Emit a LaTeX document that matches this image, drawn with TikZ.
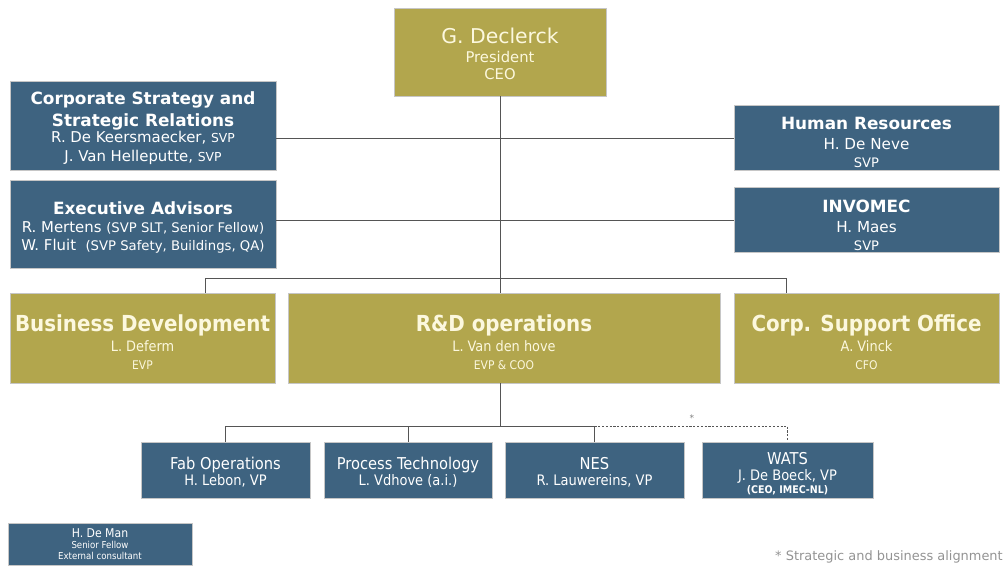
\documentclass[tikz,border=0pt]{standalone}
\usepackage{fontspec}
\setmainfont{DejaVu Sans}
\newfontfamily\condfont{DejaVu Sans Condensed}

\definecolor{imecblue}{RGB}{62,99,128}
\definecolor{imecgold}{RGB}{178,166,77}
\definecolor{goldtext}{RGB}{252,248,222}
\definecolor{linkgray}{RGB}{85,85,85}

\newcommand{\fs}[2]{\fontsize{#1}{#2}\selectfont}
\newcommand{\btitle}[1]{{\fs{12}{13.5}\bfseries #1}}
\newcommand{\gtitle}[1]{{\fs{15.7}{14.2}\bfseries #1}}
\newcommand{\lift}[1]{\rule{0pt}{#1}}

\begin{document}
\begin{tikzpicture}[x=0.025cm,y=-0.025cm,
    bluebox/.style={draw=gray!45,fill=imecblue,text=white,align=center,inner sep=0pt},
    goldbox/.style={draw=gray!45,fill=imecgold,text=goldtext,align=center,inner sep=0pt},
    link/.style={draw=linkgray,line width=0.6pt},
    dashlink/.style={link,dash pattern=on 1.5pt off 1.2pt}]

  \useasboundingbox (0,0) rectangle (1005,567);

  % top level
  \node[goldbox,minimum width=5.3cm,minimum height=2.2cm,font=\fs{10.5}{12.3}] (ceo) at (500,52)
    {\lift{14pt}{\fs{14.5}{12.3}G. Declerck}\\[1pt]President\\CEO};

  \begin{scope}[every node/.style={bluebox,minimum width=6.65cm,font=\fs{10.6}{13.5}}]
    \node[minimum height=2.225cm] (strat) at (143,125.5)
      {\lift{13pt}\btitle{Corporate Strategy and}\\[2pt]\btitle{Strategic Relations}\\[-1.5pt]
       R. De Keersmaecker, {\fs{8.8}{13.5}SVP}\\J. Van Helleputte, {\fs{8.8}{13.5}SVP}};
    \node[minimum height=2.2cm,font=\fs{10.6}{13}] (advis) at (143,224)
      {\lift{14pt}\btitle{Executive Advisors}\\
       R. Mertens {\fs{9.4}{13}(SVP SLT, Senior Fellow)}\\
       W. Fluit\ \ {\fs{9.4}{13}(SVP Safety, Buildings, QA)}};
  \end{scope}

  \begin{scope}[every node/.style={bluebox,minimum width=6.625cm,minimum height=1.625cm,font=\fs{10.8}{13}}]
    \node (hr) at (866.5,137.5)
      {\lift{16pt}\btitle{Human Resources}\\[1pt]H. De Neve\\{\fs{9.3}{13}SVP}};
    \node (invomec) at (866.5,219.5)
      {\lift{17pt}\btitle{INVOMEC}\\[1.5pt]H. Maes\\{\fs{9.3}{13}SVP}};
  \end{scope}

  % second level
  \begin{scope}[every node/.style={goldbox,minimum height=2.25cm,font=\condfont\fs{10.2}{14.2}}]
    \node[minimum width=6.625cm] (busdev) at (142.5,338)
      {\lift{18pt}\gtitle{Business Development}\\L. Deferm\\[-1.8pt]{\fs{8.5}{12}EVP}};
    \node[minimum width=10.8cm] (rnd) at (504,338)
      {\lift{18pt}\gtitle{R\&D operations}\\L. Van den hove\\[-1.8pt]{\fs{8.5}{12}EVP \& COO}};
    \node[minimum width=6.625cm] (corp) at (866.5,338)
      {\lift{18pt}\gtitle{Corp. Support Office}\\A. Vinck\\[-1.8pt]{\fs{8.5}{12}CFO}};
  \end{scope}

  % third level
  \begin{scope}[every node/.style={bluebox,minimum height=1.4cm,font=\condfont\fs{10.3}{11.4}}]
    \node[minimum width=4.225cm] (fab) at (225.5,470)
      {\lift{12pt}{\fs{11.6}{11.4}Fab Operations}\\H. Lebon, VP};
    \node[minimum width=4.2cm] (proc) at (408,470)
      {\lift{12pt}{\fs{11.6}{11.4}Process Technology}\\L. Vdhove (a.i.)};
    \node[minimum width=4.475cm] (nes) at (594.5,470)
      {\lift{12pt}{\fs{11.6}{11.4}NES}\\R. Lauwereins, VP};
    \node[minimum width=4.275cm] (wats) at (787.5,470)
      {\lift{14pt}{\fs{11.6}{11.4}WATS}\\J. De Boeck, VP\\[-2.4pt]{\fs{7.5}{9}\bfseries (CEO, IMEC-NL)}};
  \end{scope}

  \node[bluebox,minimum width=4.6cm,minimum height=1.05cm,font=\condfont\fs{6.8}{7.8}] (deman) at (100,544)
    {{\fs{8.6}{7.8}H. De Man}\\Senior Fellow\\External consultant};

  % connectors
  \draw[link] (ceo.south) -- (ceo.south |- rnd.north);
  \draw[link] (strat.east |- 0,138) -- (hr.west |- 0,138);
  \draw[link] (advis.east |- 0,220) -- (invomec.west |- 0,220);

  \coordinate (busl) at (205,278);
  \coordinate (busr) at (786,278);
  \draw[link] (busdev.north -| busl) -- (busl) -- (busr) -- (corp.north -| busr);

  \coordinate (lowbus) at (500,426);
  \draw[link] (ceo.south |- rnd.south) -- (lowbus);
  \draw[link] (fab.north) |- (nes.north |- lowbus) -- (nes.north);
  \draw[link] (proc.north) -- (proc.north |- lowbus);
  \draw[dashlink] (nes.north |- lowbus) -| (wats.north);

  \node[text=gray,font=\fs{6.5}{7}] (ast) at (692,418) {*};
  \node[text=gray!85,font=\fs{9.2}{10},anchor=east,inner sep=0pt] (note) at (1003,557)
    {* Strategic and business alignment};

\end{tikzpicture}
\end{document}
